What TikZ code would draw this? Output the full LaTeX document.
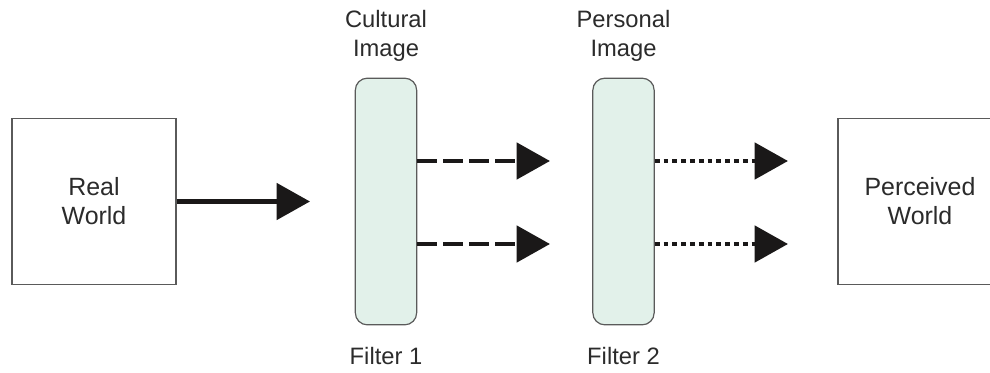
\documentclass[tikz,border=0pt]{standalone}
\usepackage{fontspec}
\setmainfont{Liberation Sans}
\usepackage{tikz}
\usetikzlibrary{arrows.meta,positioning}
\definecolor{tinta}{HTML}{1A1818}
\definecolor{borde}{HTML}{5A5A5A}
\definecolor{menta}{HTML}{E2F1EA}
\definecolor{texto}{HTML}{2B2B2B}
\tikzset{
  caja/.style={rectangle,draw=borde,fill=white,line width=0.9pt,minimum width=123pt,minimum height=124pt,inner sep=0pt,align=center,text=texto,font=\fontsize{18.7}{21.8}\selectfont},
  filtro/.style={rectangle,rounded corners=9pt,draw=borde,fill=menta,line width=0.9pt,minimum width=46pt,minimum height=185pt,inner sep=0pt},
  rotulo/.style={inner sep=0pt,align=center,text=texto},
  flecha/.style={draw=tinta,line width=3.6pt,-{Triangle[length=25pt,width=27pt]}},
  flechadash/.style={flecha,dash pattern=on 15pt off 4.5pt},
  flechadot/.style={flecha,dash pattern=on 3.6pt off 3pt},
}

\begin{document}
\begin{tikzpicture}[x=0.75pt,y=-0.75pt,font=\fontsize{17.8}{21.8}\selectfont]
\clip (0,0) rectangle (990,372);
\coordinate (c1) at (94,201.5);
\coordinate (c2) at (386,201.5);
\coordinate (c3) at (623.5,201.5);
\coordinate (c4) at (920,201.5);
\coordinate (p1) at (310,201.5);
\coordinate (d1) at (550,161);
\coordinate (d2) at (550,244);
\coordinate (e1) at (788,161);
\coordinate (e2) at (788,244);
\node[caja] (real) at (c1) {Real\\World};
\node[filtro] (f1) at (c2) {};
\node[filtro] (f2) at (c3) {};
\node[caja] (perc) at (c4) {Perceived\\World};
\node[rotulo,above=12pt of f1] (cult) {Cultural\\Image};
\node[rotulo,above=12pt of f2] (pers) {Personal\\Image};
\node[rotulo,below=16.5pt of f1] (fil1) {Filter 1};
\node[rotulo,below=16.5pt of f2] (fil2) {Filter 2};
\draw[flecha] (real.east |- p1) -- (p1);
\draw[flechadash] (f1.east |- d1) -- (d1);
\draw[flechadash] (f1.east |- d2) -- (d2);
\draw[flechadot] (f2.east |- e1) -- (e1);
\draw[flechadot] (f2.east |- e2) -- (e2);
\end{tikzpicture}
\end{document}
